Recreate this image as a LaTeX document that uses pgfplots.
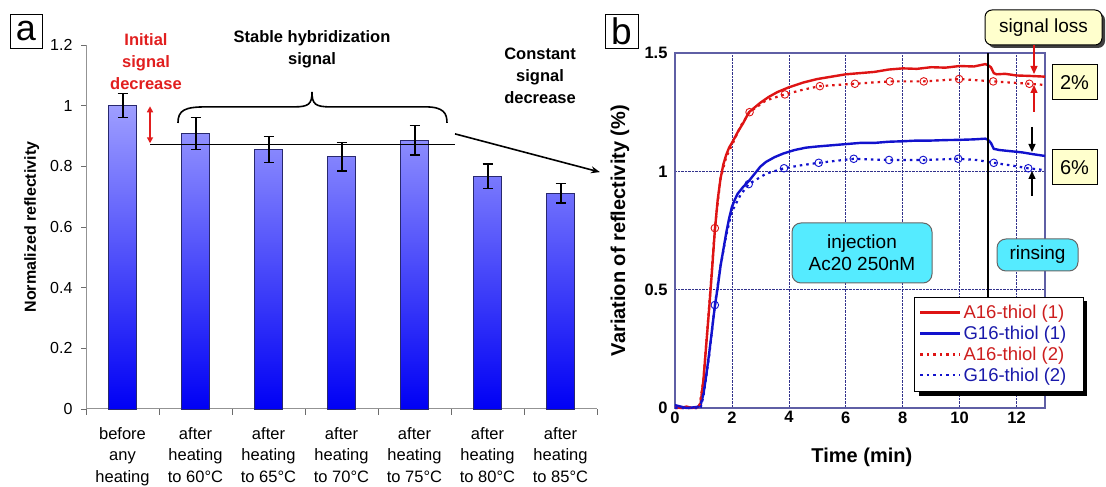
\documentclass[border=0pt]{standalone}
\usepackage{fontspec}
\setmainfont{Liberation Sans}
\usepackage{pgfplots}
\pgfplotsset{compat=1.18}
\usetikzlibrary{shadows,arrows.meta}
\definecolor{barTop}{RGB}{158,158,255}
\definecolor{barBot}{RGB}{0,0,245}
\definecolor{barEdge}{RGB}{40,40,110}
\definecolor{myred}{RGB}{222,20,20}
\definecolor{myblue}{RGB}{18,18,205}
\definecolor{legred}{RGB}{205,30,30}
\definecolor{legblue}{RGB}{25,25,170}
\definecolor{frameb}{RGB}{95,95,165}
\definecolor{gridb}{RGB}{50,50,140}
\definecolor{annred}{RGB}{225,30,30}
\definecolor{boxyel}{RGB}{255,255,205}
\definecolor{boxcyan}{RGB}{85,235,255}
\newcommand\ticka{\fontsize{16}{18}\selectfont}
\newcommand\catf{\fontsize{16.5}{21.5}\selectfont}
\newcommand\annf{\fontsize{16.5}{22}\selectfont\bfseries}
\newcommand\tickb{\fontsize{16.5}{18}\selectfont\bfseries}
\newcommand\labb{\fontsize{20}{22}\selectfont\bfseries}
\newcommand\legf{\fontsize{18.5}{20.5}\selectfont}
\newcommand\boxf{\fontsize{19}{22}\selectfont}
\begin{document}
\begin{tikzpicture}
\useasboundingbox (0,0) rectangle (1106pt,487pt);
% ---------------- panel a ----------------
\begin{axis}[
  at={(86pt,78pt)}, anchor=south west, scale only axis,
  width=511pt, height=364pt,
  xmin=-0.5, xmax=6.5, ymin=0, ymax=1.2,
  axis x line*=bottom, axis y line*=left,
  axis line style={draw=gray!85, line width=1pt},
  tick align=outside, major tick length=5pt, minor tick length=6pt,
  tick style={gray!85!black, line width=0.8pt},
  ytick={0,0.2,0.4,0.6,0.8,1,1.2},
  xtick={0,1,2,3,4,5,6},
  minor xtick={-0.5,0.5,1.5,2.5,3.5,4.5,5.5,6.5},
  major x tick style={draw=none},
  xticklabels={{before\\any\\heating},{after\\heating\\to 60°C},{after\\heating\\to 65°C},{after\\heating\\to 70°C},{after\\heating\\to 75°C},{after\\heating\\to 80°C},{after\\heating\\to 85°C}},
  xticklabel style={align=center, font=\catf, yshift=-10pt},
  yticklabel style={font=\ticka, xshift=-5pt},
  /pgf/number format/assume math mode=true,
  ylabel={Normalized reflectivity},
  ylabel style={font=\fontsize{16}{18}\selectfont\bfseries, at={(axis description cs:-0.106,0.5)}, anchor=center},
  clip=false,
]
\addplot[ybar, bar width=28pt, draw=barEdge, line width=0.6pt, top color=barTop, bottom color=barBot]
  coordinates {(0,1.0) (1,0.908) (2,0.856) (3,0.832) (4,0.886) (5,0.768) (6,0.711)};
\addplot[forget plot, draw=none, mark=none, line width=2pt,
  error bars/.cd, y dir=both, y explicit,
  error bar style={draw=black, line width=2pt},
  error mark options={draw=black, rotate=90, mark size=5pt, line width=1.3pt}]
  coordinates {(0,1.0) +- (0,0.04) (1,0.908) +- (0,0.053) (2,0.856) +- (0,0.043) (3,0.832) +- (0,0.047) (4,0.886) +- (0,0.049) (5,0.768) +- (0,0.04) (6,0.711) +- (0,0.032)};
% annotations
\draw[black, line width=0.9pt] (axis cs:0.377,0.872) -- (axis cs:4.55,0.872);
\draw[annred, line width=1.5pt, {Triangle[length=6pt,width=6pt]}-{Triangle[length=6pt,width=6pt]}] (axis cs:0.377,0.998) -- (axis cs:0.377,0.876);
\draw[black, line width=1.6pt] (axis cs:0.76,0.943) .. controls (axis cs:0.76,0.985) and (axis cs:0.85,0.996) .. (axis cs:1.15,0.996) -- (axis cs:2.35,0.996) .. controls (axis cs:2.55,0.996) and (axis cs:2.596,1.005) .. (axis cs:2.596,1.045) .. controls (axis cs:2.596,1.005) and (axis cs:2.64,0.996) .. (axis cs:2.85,0.996) -- (axis cs:4.15,0.996) .. controls (axis cs:4.4,0.996) and (axis cs:4.445,0.975) .. (axis cs:4.445,0.943);
\draw[black, line width=1.6pt, -{Stealth[length=9pt,width=7pt]}] (axis cs:4.555,0.907) -- (axis cs:6.54,0.781);
\node[annred, font=\annf, align=center] at (axis cs:0.322,1.144) {Initial\\signal\\decrease};
\node[black, font=\annf, align=center] at (axis cs:2.596,1.187) {Stable hybridization\\signal};
\node[black, font=\annf, align=center] at (axis cs:5.72,1.10) {Constant\\signal\\decrease};
\end{axis}
% ---------------- panel b ----------------
\begin{axis}[
  at={(675pt,79pt)}, anchor=south west, scale only axis,
  width=370pt, height=355pt,
  xmin=0, xmax=13, ymin=0, ymax=1.5,
  xtick={0,2,4,6,8,10,12}, ytick={0,0.5,1,1.5},
  axis line style={draw=frameb, line width=1.1pt},
  tick style={draw=none},
  grid=major, major grid style={densely dotted, draw=gridb, line width=0.7pt},
  xticklabel style={font=\tickb},
  yticklabel style={font=\tickb, xshift=-4pt},
  /pgf/number format/assume math mode=true,
  xlabel={Time (min)}, ylabel={Variation of reflectivity (\%)},
  xlabel style={font=\labb, at={(axis description cs:0.505,-0.138)}, anchor=center},
  ylabel style={font=\labb, at={(axis description cs:-0.149,0.5)}, anchor=center},
  clip=false,
  legend style={at={(axis cs:8.432,0.469)}, anchor=north west,
    draw=none, fill=none,
    font=\legf, inner xsep=4pt, inner ysep=6pt, row sep=2pt,
    /tikz/every even column/.append style={column sep=1pt}},
  legend cell align=left,
  legend image code/.code={\draw[mark repeat=2,mark phase=2] plot coordinates {(0pt,0pt) (20pt,0pt) (40pt,0pt)};},
]
\addplot[myred, line width=2.4pt] coordinates {
(0,0.005) (0.2,0.0) (0.4,0.006) (0.6,0.0) (0.8,0.004) (0.9,0.02) (1.0,0.12) (1.1,0.27) (1.2,0.42) (1.3,0.58) (1.4,0.75) (1.5,0.88) (1.6,0.97) (1.7,1.03) (1.8,1.07) (1.9,1.10) (2.0,1.12) (2.2,1.165) (2.4,1.205) (2.6,1.25) (2.8,1.27) (3.0,1.29) (3.3,1.315) (3.6,1.335) (4.0,1.355) (4.5,1.375) (5.0,1.39) (5.5,1.40) (6.0,1.41) (6.5,1.415) (7.0,1.42) (7.5,1.43) (8.0,1.435) (8.5,1.433) (9.0,1.44) (9.5,1.438) (10.0,1.445) (10.5,1.443) (10.9,1.453) (11.0,1.448) (11.1,1.44) (11.2,1.415) (11.3,1.41) (11.6,1.412) (12.0,1.405) (12.5,1.403) (13.0,1.40)};
\addlegendentry{\textcolor{legred}{A16-thiol (1)}}
\addplot[myblue, line width=2.4pt] coordinates {
(0,0.012) (0.2,0.006) (0.4,0.0) (0.6,0.002) (0.8,0.005) (0.9,0.012) (1.0,0.06) (1.1,0.14) (1.2,0.23) (1.3,0.33) (1.4,0.43) (1.5,0.51) (1.6,0.60) (1.7,0.67) (1.8,0.74) (1.9,0.80) (2.0,0.85) (2.1,0.88) (2.2,0.905) (2.4,0.935) (2.6,0.96) (2.8,0.99) (3.0,1.02) (3.2,1.04) (3.5,1.06) (3.8,1.075) (4.2,1.09) (4.6,1.10) (5.0,1.105) (5.5,1.11) (6.0,1.115) (6.5,1.12) (7.0,1.12) (7.5,1.125) (8.0,1.127) (8.5,1.13) (9.0,1.13) (9.5,1.132) (10.0,1.133) (10.5,1.135) (10.9,1.138) (11.0,1.133) (11.1,1.12) (11.2,1.095) (11.4,1.09) (11.8,1.085) (12.2,1.08) (12.6,1.072) (13.0,1.065)};
\addlegendentry{\textcolor{legblue}{G16-thiol (1)}}
\addplot[myred, line width=2.2pt, dash pattern=on 2.5pt off 4pt, mark=o, mark size=3.8pt,
  mark options={solid, fill=white, line width=0.9pt},
  mark indices={6,11,13,15,17,19,21,23,25,27}] coordinates {
(0,0.0) (0.5,0.0) (0.85,0.0) (1.0,0.12) (1.2,0.43) (1.4,0.76) (1.6,0.97) (1.8,1.06) (2.0,1.11) (2.3,1.19) (2.62,1.25) (3.2,1.30) (3.86,1.325) (4.5,1.345) (5.09,1.36) (5.7,1.365) (6.32,1.37) (6.9,1.375) (7.55,1.38) (8.1,1.38) (8.74,1.38) (9.4,1.385) (9.98,1.39) (10.6,1.385) (11.18,1.38) (11.8,1.375) (12.45,1.37) (13,1.365)};
\addlegendentry{\textcolor{legred}{A16-thiol (2)}}
\addplot[myblue, line width=2.2pt, dash pattern=on 2.5pt off 4pt, mark=o, mark size=3.8pt,
  mark options={solid, fill=white, line width=0.9pt},
  mark indices={6,11,13,15,17,19,21,23,25,27}] coordinates {
(0,0.0) (0.5,0.0) (0.9,0.0) (1.0,0.05) (1.2,0.22) (1.4,0.435) (1.6,0.60) (1.8,0.73) (2.0,0.83) (2.3,0.90) (2.59,0.946) (3.2,0.99) (3.83,1.013) (4.4,1.025) (5.05,1.036) (5.7,1.045) (6.28,1.053) (6.9,1.05) (7.52,1.048) (8.1,1.048) (8.72,1.048) (9.3,1.05) (9.95,1.053) (10.6,1.048) (11.2,1.036) (11.8,1.025) (12.41,1.013) (13,1.005)};
\addlegendentry{\textcolor{legblue}{G16-thiol (2)}}
\draw[black, line width=2.8pt] (axis cs:11,1.5) -- (axis cs:11,0.469);
% legend frame with shadow
\fill[black] (axis cs:8.5725,0.4521) rectangle (axis cs:14.4755,0.0507);
\draw[black, line width=1pt, fill=white] (axis cs:8.432,0.469) rectangle (axis cs:14.335,0.0676);
\end{axis}
% panel labels
\node[draw, line width=0.9pt, inner sep=0pt, minimum width=32pt, minimum height=34pt, font=\fontsize{36}{36}\selectfont] at (26pt,456pt) {a};
\node[draw, line width=0.9pt, inner sep=0pt, minimum width=33pt, minimum height=34pt, font=\fontsize{37}{37}\selectfont] at (621.5pt,456pt) {b};
% boxes panel b
\draw[black, line width=1pt, rounded corners=7pt, fill=boxyel, drop shadow={shadow xshift=3pt, shadow yshift=-3pt, fill=black!75, opacity=1}] (985pt,442pt) rectangle (1102pt,477pt);
\node[font=\boxf] at (1043.5pt,459.5pt) {signal loss};
\draw[black, line width=1pt, fill=boxyel] (1052pt,387pt) rectangle (1097pt,422pt);
\node[font=\fontsize{20}{22}\selectfont] at (1074.5pt,404.5pt) {2\%};
\draw[black, line width=1pt, fill=boxyel] (1052pt,302pt) rectangle (1097pt,337pt);
\node[font=\fontsize{20}{22}\selectfont] at (1074.5pt,319.5pt) {6\%};
\draw[black!60, line width=1pt, rounded corners=9pt, fill=boxcyan] (792pt,204pt) rectangle (932pt,264pt);
\node[font=\boxf, align=center] at (862pt,234pt) {injection\\Ac20 250nM};
\draw[black!60, line width=1pt, rounded corners=9pt, fill=boxcyan] (997pt,216pt) rectangle (1078pt,248pt);
\node[font=\boxf] at (1037.5pt,232pt) {rinsing};
% arrows panel b
\draw[myred, line width=1.3pt, -{Triangle[length=8pt,width=7pt]}] (1034pt,442pt) -- (1034pt,413pt);
\draw[myred, line width=1.3pt, -{Triangle[length=8pt,width=7pt]}] (1034pt,375pt) -- (1034pt,402pt);
\draw[black, line width=1.3pt, -{Triangle[length=8pt,width=7pt]}] (1032pt,360pt) -- (1032pt,335pt);
\draw[black, line width=1.3pt, -{Triangle[length=8pt,width=7pt]}] (1032pt,291pt) -- (1032pt,316pt);
\end{tikzpicture}
\end{document}
